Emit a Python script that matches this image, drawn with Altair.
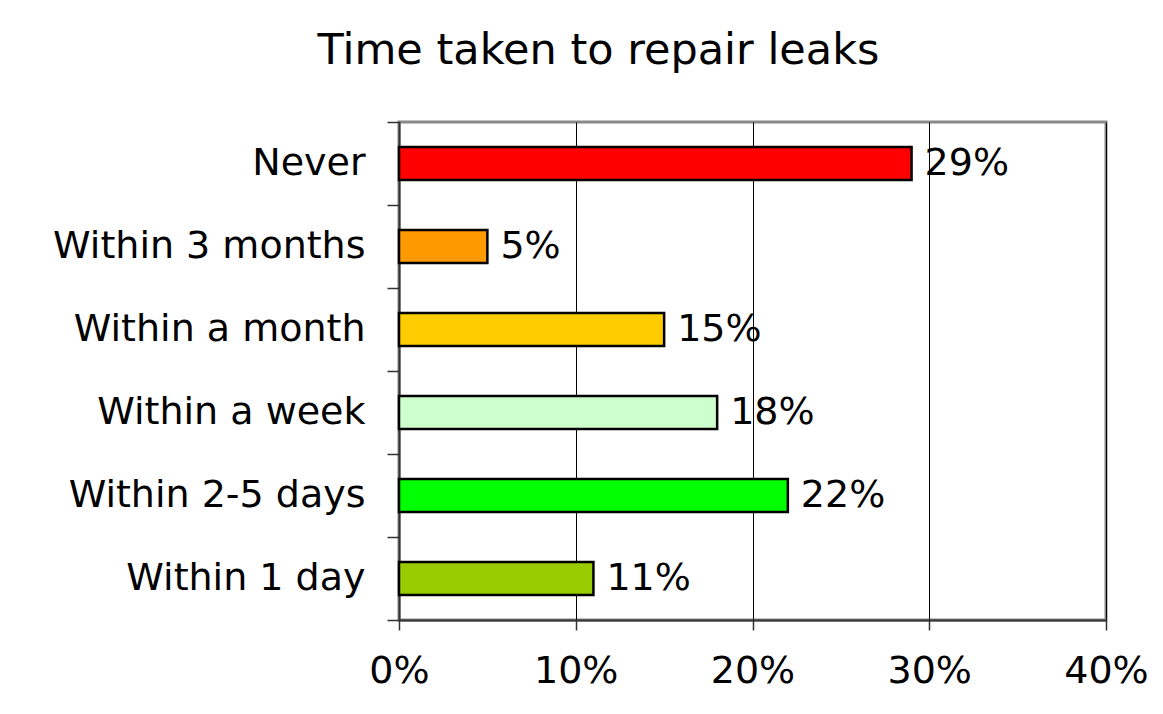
import altair as alt
import pandas as pd

categories = ["Never", "Within 3 months", "Within a month", "Within a week",
              "Within 2-5 days", "Within 1 day"]
values = [0.29, 0.05, 0.15, 0.18, 0.22, 0.11]
bar_colors = ["#FF0000", "#FF9900", "#FFCC00", "#CCFFCC", "#00FF00", "#99CC00"]
x_ticks = [0, 0.1, 0.2, 0.3, 0.4]
title_text = "Time taken to repair leaks"

df = pd.DataFrame({"cat": categories, "value": values})

FONT = "DejaVu Sans"
LBL = 38

y_enc = alt.Y(
    "cat:N",
    sort=categories,
    scale=alt.Scale(paddingInner=0, paddingOuter=0),
    axis=alt.Axis(
        title=None, tickBand="extent", tickSize=12, labelPadding=22,
        labelFontSize=LBL, labelFont=FONT, labelColor="black", labelLimit=0,
        domainColor="#333333", domainWidth=2, tickColor="#333333", tickWidth=1.5,
        grid=False,
    ),
)

x_enc = alt.X(
    "value:Q",
    scale=alt.Scale(domain=[0, 0.4], nice=False),
    axis=alt.Axis(
        title=None, values=x_ticks, format=".0%", tickSize=10, labelPadding=22,
        labelFontSize=LBL, labelFont=FONT, labelColor="black", labelFlush=False,
        domainColor="#333333", domainWidth=2, tickColor="#333333", tickWidth=1.5,
        grid=True, gridColor="black", gridWidth=1,
    ),
)

bars = alt.Chart(df).mark_bar(
    height={"band": 0.4}, stroke="black", strokeWidth=2.5
).encode(
    x=x_enc,
    y=y_enc,
    color=alt.Color("cat:N", scale=alt.Scale(domain=categories, range=bar_colors), legend=None),
)

labels = alt.Chart(df).mark_text(
    align="left", baseline="middle", dx=13, fontSize=LBL, font=FONT, color="black"
).encode(
    x=alt.X("value:Q"),
    y=alt.Y("cat:N", sort=categories),
    text=alt.Text("value:Q", format=".0%"),
)

chart = alt.layer(bars, labels).properties(
    width=707,
    height=498,
    autosize=alt.AutoSizeParams(type="none"),
    padding={"left": 391, "top": 114, "right": 49, "bottom": 86},
    background="white",
    title=alt.Title(
        title_text, fontSize=43, font=FONT, fontWeight="normal", color="black",
        anchor="middle", frame="group", dx=-154, offset=30, baseline="top",
    ),
).configure_view(stroke="#888888", strokeWidth=3)

chart.save("out.html", embed_options={"renderer": "svg", "actions": False})
